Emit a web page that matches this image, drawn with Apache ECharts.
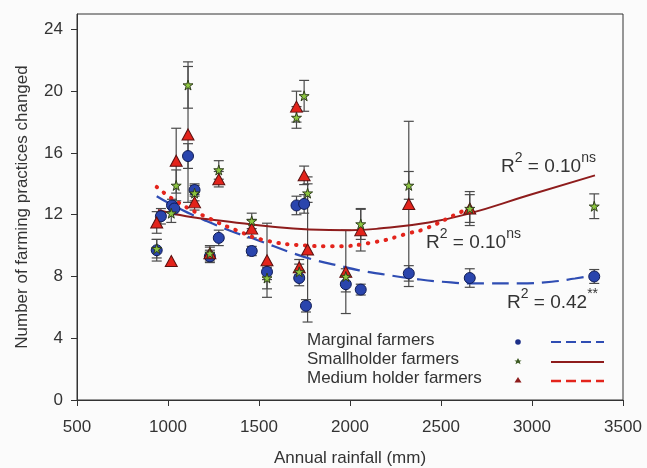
<!DOCTYPE html>
<html lang="en">
<head>
<meta charset="UTF-8">
<title>Farming practices vs annual rainfall</title>
<script src="https://cdn.jsdelivr.net/npm/echarts@6/dist/echarts.min.js"></script>
<style>
    html, body { margin: 0; padding: 0; background: #fbfbfb; }
    #main { width: 647px; height: 468px; }
</style>
</head>
<body>
<div id="main"></div>
<script>
// group means: rainfall (mm), mean number of practices changed, error (+/-)
var marginalX   = [938, 961, 1022, 1035, 1110, 1146, 1230, 1279, 1460, 1544, 1706, 1748, 1721, 1758, 1977, 2059, 2323, 2658, 3342];
var marginalY   = [9.7, 11.9, 12.6, 12.4, 15.8, 13.6, 9.3, 10.5, 9.65, 8.3, 12.6, 12.7, 7.9, 6.1, 7.5, 7.15, 8.2, 7.9, 8.0];
var marginalErr = [0.7, 0.5, 0.4, 0.4, 0.8, 0.4, 0.4, 0.5, 0.3, 0.5, 0.6, 0.6, 0.5, 0.4, 0.5, 0.35, 0.5, 0.6, 0.45];

var smallX   = [938, 1018, 1045, 1110, 1146, 1230, 1279, 1460, 1544, 1706, 1748, 1767, 1721, 1977, 2059, 2323, 2658, 3342];
var smallY   = [9.8, 12.1, 13.9, 20.4, 13.4, 9.5, 14.9, 11.6, 7.9, 18.3, 19.7, 13.4, 8.3, 8.0, 11.4, 13.9, 12.4, 12.55];
var smallErr = [0.6, 0.6, 1.0, 1.5, 0.5, 0.4, 0.6, 0.5, 0.7, 0.7, 1.0, 0.6, 0.5, 0.5, 1.0, 0.9, 0.9, 0.8];

var mediumX   = [938, 1018, 1045, 1110, 1146, 1230, 1279, 1460, 1544, 1706, 1748, 1767, 1721, 1977, 2059, 2323, 2658];
var mediumY   = [11.5, 9.0, 15.5, 17.2, 12.8, 9.5, 14.3, 11.1, 9.05, 19.0, 14.55, 9.75, 8.6, 8.3, 11.0, 12.7, 12.4];
var mediumErr = [0.7, 0, 2.1, 4.4, 0.5, 0.5, 0.5, 0.6, 2.4, 1.0, 0.6, 4.7, 0.5, 2.7, 1.35, 5.35, 1.1];

// quadratic trend lines
var marginalFitX = [938, 1045, 1200, 1356, 1493, 1676, 1812, 1940, 2050, 2177, 2342, 2506, 2700, 2926, 3108, 3236, 3340];
var marginalFitY = [13.2, 12.5, 11.65, 10.9, 10.35, 9.55, 9.05, 8.7, 8.4, 8.15, 7.87, 7.66, 7.55, 7.55, 7.66, 7.87, 8.08];
var smallFitX = [945, 1100, 1338, 1550, 1776, 1995, 2159, 2433, 2652, 2981, 3346];
var smallFitY = [12.3, 11.9, 11.55, 11.25, 11.05, 11.0, 11.1, 11.5, 12.07, 13.26, 14.55];
var mediumFitX = [938, 1055, 1228, 1374, 1530, 1767, 1900, 2141, 2323, 2415, 2614, 2660];
var mediumFitY = [13.8, 12.8, 11.75, 11.0, 10.35, 10.0, 9.95, 10.24, 10.8, 11.1, 12.2, 12.4];

var xTicks = [500, 1000, 1500, 2000, 2500, 3000, 3500];
var yTicks = [0, 4, 8, 12, 16, 20, 24];

var FONT = 'Liberation Sans, Arial, sans-serif';
var STAR = 'path://M50,0 L61,35 L98,35 L68,57 L79,91 L50,70 L21,91 L32,57 L2,35 L39,35 Z';

function zip(xs, ys) {
    return xs.map(function (x, i) { return [x, ys[i]]; });
}

function errorBars(xs, ys, errs) {
    var data = [];
    xs.forEach(function (x, i) {
        if (errs[i] > 0) data.push([x, ys[i] - errs[i], ys[i] + errs[i]]);
    });
    return {
        type: 'custom',
        silent: true,
        z: 1,
        data: data,
        encode: {x: 0, y: [1, 2]},
        renderItem: function (params, api) {
            var lo = api.coord([api.value(0), api.value(1)]);
            var hi = api.coord([api.value(0), api.value(2)]);
            var w = 5;
            var st = {stroke: '#4a4a4a', lineWidth: 1.2};
            return {
                type: 'group',
                children: [
                    {type: 'line', shape: {x1: lo[0], y1: lo[1], x2: hi[0], y2: hi[1]}, style: st},
                    {type: 'line', shape: {x1: lo[0] - w, y1: lo[1], x2: lo[0] + w, y2: lo[1]}, style: st},
                    {type: 'line', shape: {x1: hi[0] - w, y1: hi[1], x2: hi[0] + w, y2: hi[1]}, style: st}
                ]
            };
        }
    };
}

var myChart = echarts.init(document.getElementById('main'));

var option = {
    backgroundColor: '#fbfbfb',
    animation: false,
    textStyle: {fontFamily: FONT},
    grid: {
        left: 77, right: 24, top: 14, bottom: 68,
        outerBoundsMode: 'none', containLabel: false,
        show: true, borderColor: '#333', borderWidth: 1, backgroundColor: 'transparent'
    },
    xAxis: {
        type: 'value', min: 500, max: 3500, interval: 500,
        name: 'Annual rainfall (mm)', nameLocation: 'middle', nameGap: 50,
        nameTextStyle: {fontSize: 17, color: '#333', fontFamily: FONT},
        axisLine: {lineStyle: {color: '#333'}},
        axisTick: {show: true, length: 6, lineStyle: {color: '#333'}, customValues: xTicks},
        axisLabel: {
            fontSize: 17, color: '#333', margin: 19, customValues: xTicks,
            formatter: function (v) { return String(v); }
        },
        splitLine: {show: false}
    },
    yAxis: {
        type: 'value', min: 0, max: 25,
        name: 'Number of farming practices changed', nameLocation: 'middle', nameGap: 46,
        nameTextStyle: {fontSize: 17, color: '#333', fontFamily: FONT},
        axisLine: {show: true, lineStyle: {color: '#333'}},
        axisTick: {show: true, length: 6, lineStyle: {color: '#333'}, customValues: yTicks},
        axisLabel: {fontSize: 17, color: '#333', margin: 14, customValues: yTicks},
        splitLine: {show: false}
    },
    series: [
        errorBars(marginalX, marginalY, marginalErr),
        errorBars(smallX, smallY, smallErr),
        errorBars(mediumX, mediumY, mediumErr),
        {
            type: 'line', data: zip(marginalFitX, marginalFitY), smooth: true, showSymbol: false, z: 2, silent: true,
            lineStyle: {color: '#2f4db3', width: 2.2, type: [17, 8]}
        },
        {
            type: 'line', data: zip(smallFitX, smallFitY), smooth: true, showSymbol: false, z: 2, silent: true,
            lineStyle: {color: '#8e1c1c', width: 2}
        },
        {
            type: 'line', data: zip(mediumFitX, mediumFitY), smooth: true, showSymbol: false, z: 2, silent: true,
            lineStyle: {color: '#e3241c', width: 4, type: [0.5, 8.5], cap: 'round'}
        },
        {
            name: 'Marginal farmers', type: 'scatter', data: zip(marginalX, marginalY), z: 3,
            symbol: 'circle', symbolSize: 11,
            itemStyle: {color: '#2a45ad', borderColor: '#101c55', borderWidth: 1, opacity: 1}
        },
        {
            name: 'Medium holder farmers', type: 'scatter', data: zip(mediumX, mediumY), z: 4,
            symbol: 'triangle', symbolSize: [12, 11],
            itemStyle: {color: '#e3231b', borderColor: '#5a1010', borderWidth: 1, opacity: 1}
        },
        {
            name: 'Smallholder farmers', type: 'scatter', data: zip(smallX, smallY), z: 5,
            symbol: STAR, symbolSize: 10,
            itemStyle: {color: '#8cc63f', borderColor: '#2f3d1c', borderWidth: 1, opacity: 1}
        }
    ]
};

myChart.setOption(option);

// R-squared annotations and the legend box
function rsq(left, top, value, sup) {
    return {
        type: 'text', left: left, top: top, z: 10,
        style: {
            text: '{a|R}{s|2}{a| = ' + value + '}{s|' + sup + '}',
            rich: {
                a: {fontSize: 19, fontFamily: FONT, fill: '#333', lineHeight: 25, verticalAlign: 'bottom'},
                s: {fontSize: 14, fontFamily: FONT, fill: '#333', lineHeight: 25, verticalAlign: 'top'}
            }
        }
    };
}

var legendRows = [
    {label: 'Marginal farmers', y: 342},
    {label: 'Smallholder farmers', y: 361},
    {label: 'Medium holder farmers', y: 380}
];

var graphics = [
    rsq(501, 151, '0.10', 'ns'),
    rsq(426, 227, '0.10', 'ns'),
    rsq(507, 287, '0.42', '**')
];

legendRows.forEach(function (r) {
    graphics.push({
        type: 'text', left: 307, top: r.y - 10, z: 10,
        style: {text: r.label, fontSize: 17, fontFamily: FONT, fill: '#333'}
    });
});

graphics.push(
    {type: 'circle', shape: {cx: 518, cy: 342, r: 2.8}, style: {fill: '#1c2f88'}, z: 10},
    {type: 'polygon', shape: {points: [[518, 358], [519.3, 360.4], [521.6, 360.4], [519.8, 361.8], [520.5, 364.2], [518, 362.8], [515.5, 364.2], [516.2, 361.8], [514.4, 360.4], [516.7, 360.4]]}, style: {fill: '#3d5a22'}, z: 10},
    {type: 'polygon', shape: {points: [[518, 377], [521.5, 382.5], [514.5, 382.5]]}, style: {fill: '#8e1c1c'}, z: 10},
    {type: 'line', shape: {x1: 551, y1: 342, x2: 604, y2: 342}, style: {stroke: '#2f4db3', lineWidth: 2, lineDash: [10, 5]}, z: 10},
    {type: 'line', shape: {x1: 551, y1: 362, x2: 604, y2: 362}, style: {stroke: '#8e1c1c', lineWidth: 2}, z: 10},
    {type: 'line', shape: {x1: 551, y1: 381, x2: 604, y2: 381}, style: {stroke: '#e3241c', lineWidth: 2.5, lineDash: [10, 5]}, z: 10}
);

myChart.setOption({graphic: graphics});
</script>
</body>
</html>
